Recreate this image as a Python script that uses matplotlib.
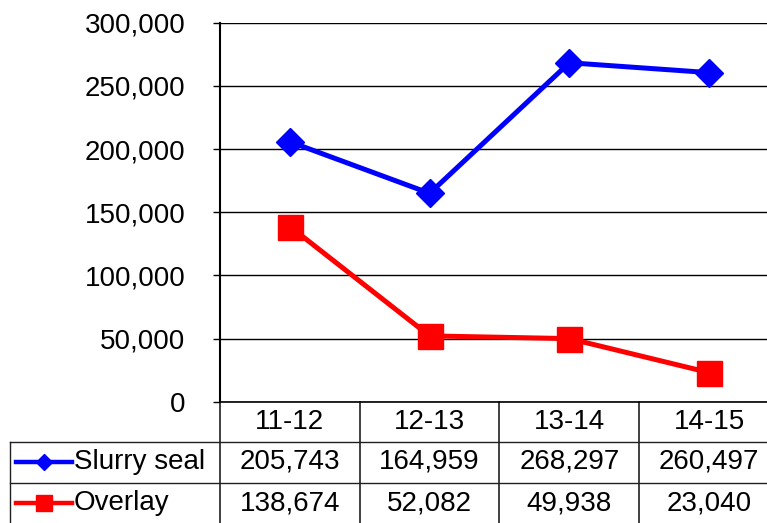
import matplotlib
matplotlib.use('Agg')
import matplotlib.pyplot as plt
import matplotlib.ticker as mticker
from matplotlib.transforms import blended_transform_factory

plt.rcParams['font.family'] = ['Liberation Sans', 'DejaVu Sans']

# 数据
categories = ['11-12', '12-13', '13-14', '14-15']
slurry_seal = [205743, 164959, 268297, 260497]
overlay = [138674, 52082, 49938, 23040]
y_ticks = [0, 50000, 100000, 150000, 200000, 250000, 300000]

W, H = 767, 523
fig = plt.figure(figsize=(W / 100, H / 100), dpi=100)

# 绘图区（像素位置换算）
ax_left, ax_right = 220, 779
ax_top, ax_bottom = 22.7, 401.7
ax = fig.add_axes([ax_left / W, (H - ax_bottom) / H,
                   (ax_right - ax_left) / W, (ax_bottom - ax_top) / H])

x = list(range(len(categories)))
ax.plot(x, slurry_seal, color='#0000FF', linewidth=3.6, marker='D',
        markersize=14.5, zorder=3, clip_on=False)
ax.plot(x, overlay, color='#FF0000', linewidth=3.6, marker='s',
        markersize=18, zorder=3, clip_on=False)

ax.set_xlim(-0.5, len(categories) - 0.5)
ax.set_ylim(0, 300000)
ax.set_yticks(y_ticks)
ax.yaxis.set_major_formatter(mticker.FuncFormatter(lambda v, p: f'{int(v):,}'))
ax.tick_params(axis='y', direction='out', length=5, width=1, pad=20,
               labelsize=20, colors='black')
ax.set_xticks([])
ax.yaxis.grid(True, color='black', linewidth=1)
ax.set_axisbelow(True)
for s in ['top', 'right']:
    ax.spines[s].set_visible(False)
ax.spines['left'].set_linewidth(1.5)
ax.spines['bottom'].set_linewidth(1.2)

# 数据表（x 用数据坐标，y 用轴坐标）
trans = blended_transform_factory(ax.transData, ax.transAxes)
h = ax_bottom - ax_top


def ypos(px):
    return (ax_bottom - px) / h


col_w = (ax_right - ax_left) / len(categories)


def xpos(px):
    return -0.5 + (px - ax_left) / col_w


row_edges = [ypos(442), ypos(483), ypos(530)]
x_tab_left = xpos(10)
lc = '#202020'

# 竖线
for i in range(len(categories) + 1):
    ax.plot([i - 0.5, i - 0.5], [0, row_edges[-1]], color=lc, lw=1.2,
            transform=trans, clip_on=False)
ax.plot([x_tab_left, x_tab_left], [row_edges[0], row_edges[-1]], color=lc,
        lw=1, transform=trans, clip_on=False)
# 横线
for ye in row_edges[:2]:
    ax.plot([x_tab_left, len(categories) - 0.5], [ye, ye], color=lc, lw=1,
            transform=trans, clip_on=False)

# 表格文字
header_y = ypos(422)
row_ys = [ypos(462), ypos(503)]
for i, c in enumerate(categories):
    ax.text(i, header_y, c, transform=trans, ha='center', va='center',
            fontsize=20)
    ax.text(i, row_ys[0], f'{slurry_seal[i]:,}', transform=trans,
            ha='center', va='center', fontsize=20)
    ax.text(i, row_ys[1], f'{overlay[i]:,}', transform=trans,
            ha='center', va='center', fontsize=20)

# 图例键
series = [('Slurry seal', '#0000FF', 'D', 8.5), ('Overlay', '#FF0000', 's', 11)]
for (name, color, mk, ms), yy in zip(series, row_ys):
    ax.plot([xpos(16), xpos(72)], [yy, yy], color=color, lw=3.2,
            transform=trans, clip_on=False)
    ax.plot([xpos(44)], [yy], color=color, marker=mk, markersize=ms,
            transform=trans, clip_on=False)
    ax.text(xpos(74), yy, name, transform=trans, ha='left', va='center',
            fontsize=20)

fig.savefig('out.png', dpi=100)
